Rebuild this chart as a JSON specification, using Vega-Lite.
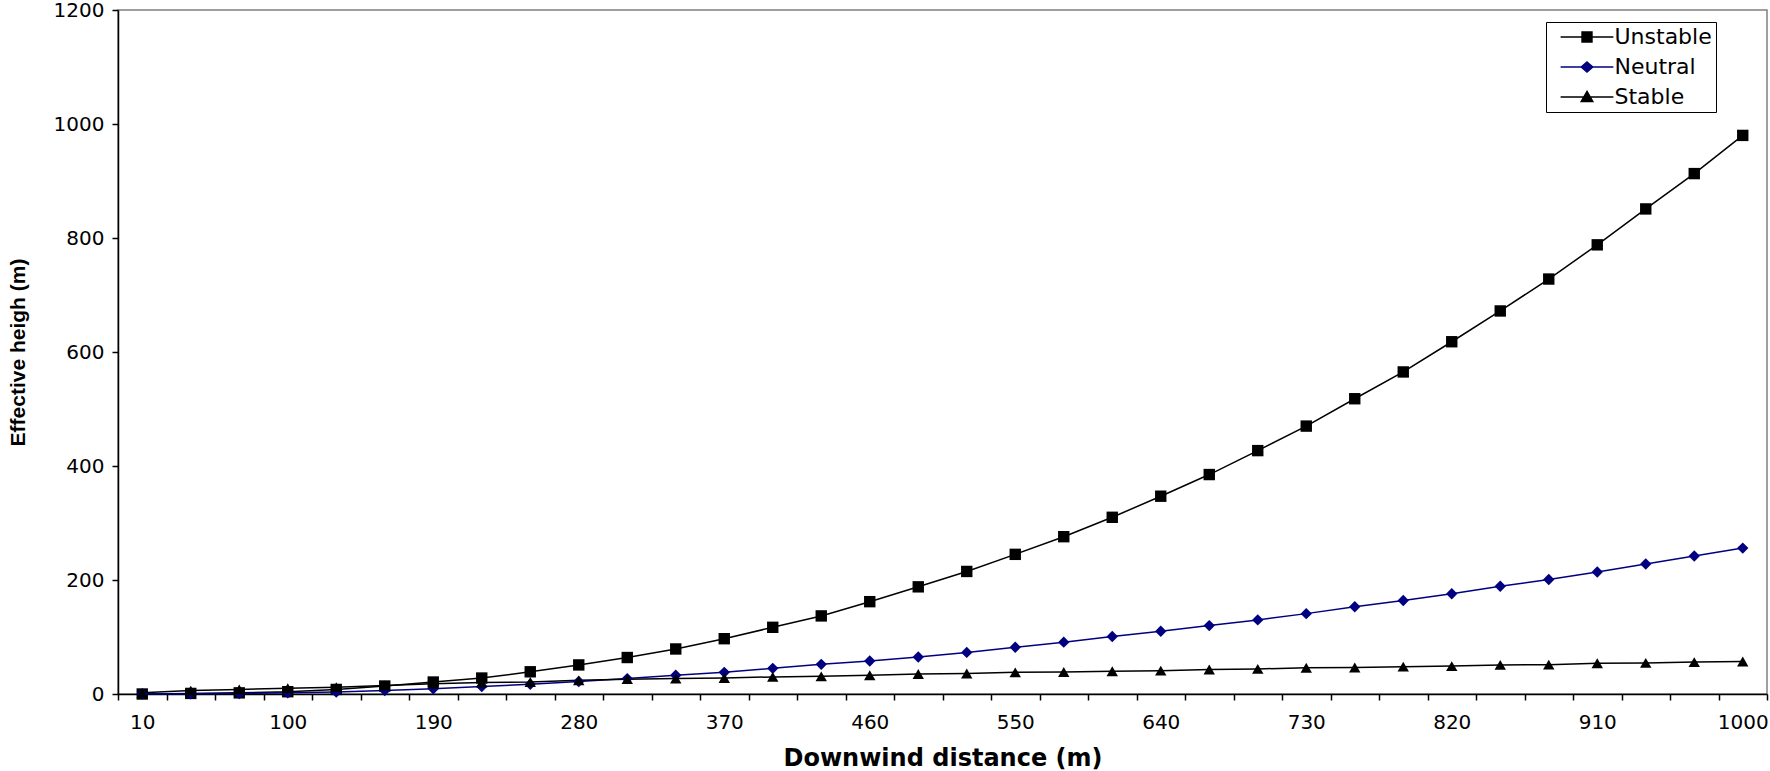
{
  "$schema": "https://vega.github.io/schema/vega-lite/v6.json",
  "width": 1649,
  "height": 684,
  "autosize": "none",
  "padding": {"left": 118, "top": 10, "right": 3, "bottom": 77},
  "background": "white",
  "data": {
    "values": [
      {"d": 10, "series": "Unstable", "h": 0}, {"d": 40, "series": "Unstable", "h": 1}, {"d": 70, "series": "Unstable", "h": 2}, {"d": 100, "series": "Unstable", "h": 4},
      {"d": 130, "series": "Unstable", "h": 8}, {"d": 160, "series": "Unstable", "h": 14}, {"d": 190, "series": "Unstable", "h": 21}, {"d": 220, "series": "Unstable", "h": 28},
      {"d": 250, "series": "Unstable", "h": 39}, {"d": 280, "series": "Unstable", "h": 51}, {"d": 310, "series": "Unstable", "h": 64}, {"d": 340, "series": "Unstable", "h": 79},
      {"d": 370, "series": "Unstable", "h": 97}, {"d": 400, "series": "Unstable", "h": 117}, {"d": 430, "series": "Unstable", "h": 137}, {"d": 460, "series": "Unstable", "h": 162},
      {"d": 490, "series": "Unstable", "h": 188}, {"d": 520, "series": "Unstable", "h": 215}, {"d": 550, "series": "Unstable", "h": 245}, {"d": 580, "series": "Unstable", "h": 276},
      {"d": 610, "series": "Unstable", "h": 310}, {"d": 640, "series": "Unstable", "h": 347}, {"d": 670, "series": "Unstable", "h": 385}, {"d": 700, "series": "Unstable", "h": 427},
      {"d": 730, "series": "Unstable", "h": 470}, {"d": 760, "series": "Unstable", "h": 518}, {"d": 790, "series": "Unstable", "h": 565}, {"d": 820, "series": "Unstable", "h": 618},
      {"d": 850, "series": "Unstable", "h": 672}, {"d": 880, "series": "Unstable", "h": 728}, {"d": 910, "series": "Unstable", "h": 788}, {"d": 940, "series": "Unstable", "h": 851},
      {"d": 970, "series": "Unstable", "h": 913}, {"d": 1000, "series": "Unstable", "h": 980},
      {"d": 10, "series": "Neutral", "h": 0}, {"d": 40, "series": "Neutral", "h": 0.5}, {"d": 70, "series": "Neutral", "h": 1}, {"d": 100, "series": "Neutral", "h": 2},
      {"d": 130, "series": "Neutral", "h": 3.5}, {"d": 160, "series": "Neutral", "h": 6}, {"d": 190, "series": "Neutral", "h": 9}, {"d": 220, "series": "Neutral", "h": 13},
      {"d": 250, "series": "Neutral", "h": 17}, {"d": 280, "series": "Neutral", "h": 22}, {"d": 310, "series": "Neutral", "h": 27}, {"d": 340, "series": "Neutral", "h": 33},
      {"d": 370, "series": "Neutral", "h": 38}, {"d": 400, "series": "Neutral", "h": 45}, {"d": 430, "series": "Neutral", "h": 52}, {"d": 460, "series": "Neutral", "h": 58},
      {"d": 490, "series": "Neutral", "h": 65}, {"d": 520, "series": "Neutral", "h": 73}, {"d": 550, "series": "Neutral", "h": 82}, {"d": 580, "series": "Neutral", "h": 91},
      {"d": 610, "series": "Neutral", "h": 101}, {"d": 640, "series": "Neutral", "h": 110}, {"d": 670, "series": "Neutral", "h": 120}, {"d": 700, "series": "Neutral", "h": 130},
      {"d": 730, "series": "Neutral", "h": 141}, {"d": 760, "series": "Neutral", "h": 153}, {"d": 790, "series": "Neutral", "h": 164}, {"d": 820, "series": "Neutral", "h": 176},
      {"d": 850, "series": "Neutral", "h": 189}, {"d": 880, "series": "Neutral", "h": 201}, {"d": 910, "series": "Neutral", "h": 214}, {"d": 940, "series": "Neutral", "h": 228},
      {"d": 970, "series": "Neutral", "h": 242}, {"d": 1000, "series": "Neutral", "h": 256},
      {"d": 10, "series": "Stable", "h": 2}, {"d": 40, "series": "Stable", "h": 6}, {"d": 70, "series": "Stable", "h": 8}, {"d": 100, "series": "Stable", "h": 10},
      {"d": 130, "series": "Stable", "h": 12}, {"d": 160, "series": "Stable", "h": 15}, {"d": 190, "series": "Stable", "h": 18}, {"d": 220, "series": "Stable", "h": 20},
      {"d": 250, "series": "Stable", "h": 21}, {"d": 280, "series": "Stable", "h": 24}, {"d": 310, "series": "Stable", "h": 26}, {"d": 340, "series": "Stable", "h": 27},
      {"d": 370, "series": "Stable", "h": 28}, {"d": 400, "series": "Stable", "h": 30}, {"d": 430, "series": "Stable", "h": 31}, {"d": 460, "series": "Stable", "h": 33},
      {"d": 490, "series": "Stable", "h": 35}, {"d": 520, "series": "Stable", "h": 36}, {"d": 550, "series": "Stable", "h": 38}, {"d": 580, "series": "Stable", "h": 38.5},
      {"d": 610, "series": "Stable", "h": 40}, {"d": 640, "series": "Stable", "h": 41}, {"d": 670, "series": "Stable", "h": 43}, {"d": 700, "series": "Stable", "h": 44},
      {"d": 730, "series": "Stable", "h": 46}, {"d": 760, "series": "Stable", "h": 46.5}, {"d": 790, "series": "Stable", "h": 48}, {"d": 820, "series": "Stable", "h": 49},
      {"d": 850, "series": "Stable", "h": 51}, {"d": 880, "series": "Stable", "h": 51.5}, {"d": 910, "series": "Stable", "h": 54}, {"d": 940, "series": "Stable", "h": 54.5},
      {"d": 970, "series": "Stable", "h": 56}, {"d": 1000, "series": "Stable", "h": 57}
    ]
  },
  "encoding": {
    "x": {
      "field": "d", "type": "quantitative",
      "scale": {"domain": [-5, 1015], "nice": false, "zero": false},
      "title": "Downwind distance (m)",
      "axis": {
        "values": [-5,25,55,85,115,145,175,205,235,265,295,325,355,385,415,445,475,505,535,565,595,625,655,685,715,745,775,805,835,865,895,925,955,985,1015],
        "labelExpr": "(datum.value + 5) % 90 === 0 ? '' + (datum.value + 15) : ''",
        "labelOffset": 24.25,
        "labelOverlap": false,
        "labelFlush": false,
        "labelPadding": 12,
        "titleFont": "DejaVu Sans",
        "titleFontSize": 24,
        "titleFontWeight": "bold",
        "titleBaseline": "middle",
        "titleY": 64
      }
    },
    "y": {
      "field": "h", "type": "quantitative",
      "scale": {"domain": [0, 1200], "nice": false},
      "title": "Effective heigh (m)",
      "axis": {
        "values": [0, 200, 400, 600, 800, 1000, 1200],
        "format": "d",
        "labelPadding": 8,
        "titleFont": "Liberation Sans",
        "titleFontSize": 21,
        "titleFontWeight": "bold",
        "titleBaseline": "middle",
        "titleX": -100
      }
    }
  },
  "layer": [
    {
      "mark": {"type": "line", "strokeWidth": 1.5},
      "encoding": {
        "color": {
          "field": "series", "type": "nominal",
          "scale": {"domain": ["Unstable", "Neutral", "Stable"], "range": ["#000000", "#000080", "#000000"]},
          "legend": null
        }
      }
    },
    {
      "mark": {"type": "point", "filled": true, "opacity": 1, "size": 130},
      "encoding": {
        "color": {
          "field": "series", "type": "nominal",
          "scale": {"domain": ["Unstable", "Neutral", "Stable"], "range": ["#000000", "#000080", "#000000"]},
          "legend": null
        },
        "shape": {
          "field": "series", "type": "nominal",
          "scale": {"domain": ["Unstable", "Neutral", "Stable"], "range": ["square", "diamond", "triangle-up"]},
          "legend": null
        }
      }
    },
    {
      "transform": [{"filter": "datum.h < 0"}],
      "mark": {"type": "point", "filled": true, "opacity": 1, "size": 121, "strokeWidth": 1.5},
      "encoding": {
        "fill": {
          "field": "series", "type": "nominal",
          "scale": {"domain": ["Unstable", "Neutral", "Stable"], "range": ["#000000", "#000080", "#000000"]},
          "legend": {
            "orient": "none", "legendX": 1428, "legendY": 12, "title": null,
            "symbolSize": 121, "symbolStrokeWidth": 1.5, "symbolOffset": 26, "labelOffset": 16.5,
            "labelFont": "DejaVu Sans", "labelFontSize": 22, "labelColor": "black",
            "padding": 4, "rowPadding": 8,
            "strokeColor": "black", "fillColor": "white"
          }
        },
        "stroke": {
          "field": "series", "type": "nominal",
          "scale": {"domain": ["Unstable", "Neutral", "Stable"], "range": ["#000000", "#000080", "#000000"]},
          "legend": {
            "orient": "none", "legendX": 1428, "legendY": 12, "title": null,
            "symbolSize": 121, "symbolStrokeWidth": 1.5, "symbolOffset": 26, "labelOffset": 16.5,
            "labelFont": "DejaVu Sans", "labelFontSize": 22, "labelColor": "black",
            "padding": 4, "rowPadding": 8,
            "strokeColor": "black", "fillColor": "white"
          }
        },
        "shape": {
          "field": "series", "type": "nominal",
          "scale": {
            "domain": ["Unstable", "Neutral", "Stable"],
            "range": [
              "M-4.8,0H4.8M-0.9,-0.9H0.9V0.9H-0.9Z",
              "M-4.8,0H4.8M0,-0.9L1.05,0L0,0.9L-1.05,0Z",
              "M-4.8,0H4.8M0,-1L1.05,0.8H-1.05Z"
            ]
          },
          "legend": {
            "orient": "none", "legendX": 1428, "legendY": 12, "title": null,
            "symbolSize": 121, "symbolStrokeWidth": 1.5, "symbolOffset": 26, "labelOffset": 16.5,
            "labelFont": "DejaVu Sans", "labelFontSize": 22, "labelColor": "black",
            "padding": 4, "rowPadding": 8,
            "strokeColor": "black", "fillColor": "white"
          }
        }
      }
    }
  ],
  "resolve": {"scale": {"shape": "independent", "fill": "independent", "stroke": "independent"}},
  "config": {
    "view": {"stroke": "#808080", "strokeWidth": 1.5},
    "axis": {
      "grid": false,
      "domainColor": "black", "domainWidth": 1.5,
      "tickColor": "black", "tickWidth": 1.5, "tickSize": 6,
      "labelFont": "DejaVu Sans", "labelFontSize": 20, "labelColor": "black",
      "titleColor": "black"
    }
  }
}
